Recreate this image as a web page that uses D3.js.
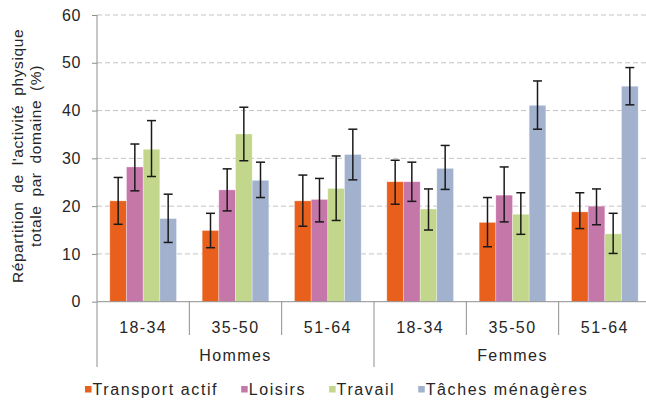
<!DOCTYPE html>
<html>
<head>
<meta charset="utf-8">
<script src="https://cdn.jsdelivr.net/npm/d3@7/dist/d3.min.js"></script>
<style>
  html, body { margin: 0; padding: 0; background: #fff; }
  svg { display: block; font-family: "Liberation Sans", Arial, sans-serif; }
</style>
</head>
<body>
<svg id="chart" width="646" height="402"></svg>
<script>
// Age groups within each sex, and the sexes themselves
const ageGroups = ["18-34", "35-50", "51-64"];
const sexes = ["Hommes", "Femmes"];
const seriesNames = ["Transport actif", "Loisirs", "Travail", "Tâches ménagères"];
const seriesColors = ["#E8601C", "#C677AA", "#C3D78C", "#A1B1CE"];
const yTicks = [0, 10, 20, 30, 40, 50, 60];

// Share of total physical activity (%) — order: H 18-34, H 35-50, H 51-64, F 18-34, F 35-50, F 51-64
const transportActif = [21.1, 14.9, 21.1, 25.1, 16.6, 18.8];
const loisirs        = [28.2, 23.4, 21.4, 25.1, 22.3, 20.0];
const travail        = [31.9, 35.1, 23.7, 19.4, 18.3, 14.2];
const tachesMenageres= [17.4, 25.4, 30.8, 27.9, 41.1, 45.1];

// 95% confidence interval bounds
const transportLow  = [16.2, 11.3, 15.8, 20.4, 11.5, 15.3];
const transportHigh = [26.0, 18.5, 26.5, 29.6, 21.8, 22.8];
const loisirsLow    = [23.2, 19.0, 16.7, 21.0, 16.7, 16.1];
const loisirsHigh   = [33.0, 27.8, 25.8, 29.2, 28.2, 23.6];
const travailLow    = [26.2, 29.5, 17.0, 15.0, 14.1, 10.1];
const travailHigh   = [37.9, 40.7, 30.5, 23.6, 22.8, 18.5];
const tachesLow     = [12.4, 21.8, 25.5, 23.5, 36.1, 41.2];
const tachesHigh    = [22.5, 29.2, 36.1, 32.7, 46.2, 49.0];

const seriesValues = [transportActif, loisirs, travail, tachesMenageres];
const seriesLow = [transportLow, loisirsLow, travailLow, tachesLow];
const seriesHigh = [transportHigh, loisirsHigh, travailHigh, tachesHigh];

const categories = [];
sexes.forEach(s => ageGroups.forEach(a => categories.push(s + "|" + a)));

const svg = d3.select("#chart");
const plotLeft = 97, plotRight = 651, plotTop = 15, plotBottom = 301.7;

const x = d3.scaleBand().domain(categories).range([plotLeft, plotRight]).paddingInner(0).paddingOuter(0);
const xs = d3.scaleBand().domain(d3.range(seriesNames.length)).range([0, x.bandwidth()])
  .paddingInner(0).paddingOuter(0.77);
const y = d3.scaleLinear().domain([0, 60]).range([plotBottom, plotTop]);

const axisColor = "#8f8f8f";
const textColor = "#262626";

// dashed horizontal gridlines
svg.append("g").selectAll("line")
  .data(yTicks.filter(t => t > 0))
  .join("line")
  .attr("x1", plotLeft).attr("x2", 646)
  .attr("y1", d => y(d)).attr("y2", d => y(d))
  .attr("stroke", "#c4c4c4").attr("stroke-width", 1)
  .attr("stroke-dasharray", "5,3");

// bars
const barsG = svg.append("g");
seriesNames.forEach((name, si) => {
  barsG.append("g").selectAll("rect")
    .data(categories.map((c, i) => ({ c, v: seriesValues[si][i] })))
    .join("rect")
    .attr("x", d => x(d.c) + xs(si))
    .attr("width", xs.bandwidth())
    .attr("y", d => y(d.v))
    .attr("height", d => y(0) - y(d.v))
    .attr("fill", seriesColors[si])
    .attr("stroke", "#ffffff").attr("stroke-opacity", 0.5).attr("stroke-width", 0.6);
});

// error bars
const errG = svg.append("g").attr("stroke", "#1a1a1a").attr("stroke-width", 1.5);
seriesNames.forEach((name, si) => {
  categories.forEach((c, i) => {
    const cx = x(c) + xs(si) + xs.bandwidth() / 2;
    const lo = y(seriesLow[si][i]), hi = y(seriesHigh[si][i]);
    errG.append("line").attr("x1", cx).attr("x2", cx).attr("y1", lo).attr("y2", hi);
    errG.append("line").attr("x1", cx - 4.5).attr("x2", cx + 4.5).attr("y1", lo).attr("y2", lo);
    errG.append("line").attr("x1", cx - 4.5).attr("x2", cx + 4.5).attr("y1", hi).attr("y2", hi);
  });
});

// y axis
const yAxis = d3.axisLeft(y).tickValues(yTicks).tickSize(5).tickPadding(11);
const yg = svg.append("g").attr("transform", `translate(${plotLeft},0)`).call(yAxis);
yg.select(".domain").attr("stroke", axisColor).attr("d", `M-0,${plotTop}V${plotBottom}`);
yg.selectAll(".tick line").attr("stroke", axisColor);
yg.selectAll(".tick text").attr("fill", textColor).attr("font-size", 16)
  .attr("font-family", "Liberation Sans, Arial, sans-serif").attr("letter-spacing", 0.6);

// baseline
svg.append("line").attr("x1", plotLeft).attr("x2", 646).attr("y1", y(0)).attr("y2", y(0))
  .attr("stroke", axisColor).attr("stroke-width", 1);

// category separators (two-level axis)
const bounds = d3.range(categories.length + 1).map(i => plotLeft + i * x.step());
svg.append("g").selectAll("line").data(bounds).join("line")
  .attr("x1", d => d).attr("x2", d => d)
  .attr("y1", y(0))
  .attr("y2", (d, i) => (i % ageGroups.length === 0) ? 367 : 335)
  .attr("stroke", axisColor).attr("stroke-width", 1);

// age labels
svg.append("g").selectAll("text").data(categories).join("text")
  .attr("x", d => x(d) + x.bandwidth() / 2)
  .attr("y", 333)
  .attr("text-anchor", "middle")
  .attr("font-size", 16).attr("letter-spacing", 1.4).attr("fill", textColor)
  .text(d => d.split("|")[1]);

// sex labels
svg.append("g").selectAll("text").data(sexes).join("text")
  .attr("x", (s, i) => x(s + "|" + ageGroups[0]) + (x.step() * ageGroups.length) / 2)
  .attr("y", 361)
  .attr("text-anchor", "middle")
  .attr("font-size", 16).attr("letter-spacing", 1.4).attr("fill", textColor)
  .text(d => d);

// y axis title
const titleLines = ["Répartition de l'activité physique", "totale par domaine (%)"];
const tg = svg.append("g").attr("transform", "translate(0,156) rotate(-90)");
tg.selectAll("text").data(titleLines).join("text")
  .attr("x", 0).attr("y", (d, i) => 23 + i * 18)
  .attr("text-anchor", "middle")
  .attr("font-size", 15.5).attr("letter-spacing", 0.6).attr("word-spacing", 4)
  .attr("fill", textColor)
  .text(d => d);

// legend
const lg = svg.append("g");
let lx = 85;
seriesNames.forEach((name, si) => {
  lg.append("rect").attr("x", lx).attr("y", 386).attr("width", 6.5).attr("height", 6.5)
    .attr("fill", seriesColors[si]);
  const t = lg.append("text").attr("x", lx + 7.5).attr("y", 395)
    .attr("font-size", 16).attr("letter-spacing", 1.6).attr("fill", textColor).text(name);
  lx += 7.5 + t.node().getComputedTextLength() + 23;
});
</script>
</body>
</html>
